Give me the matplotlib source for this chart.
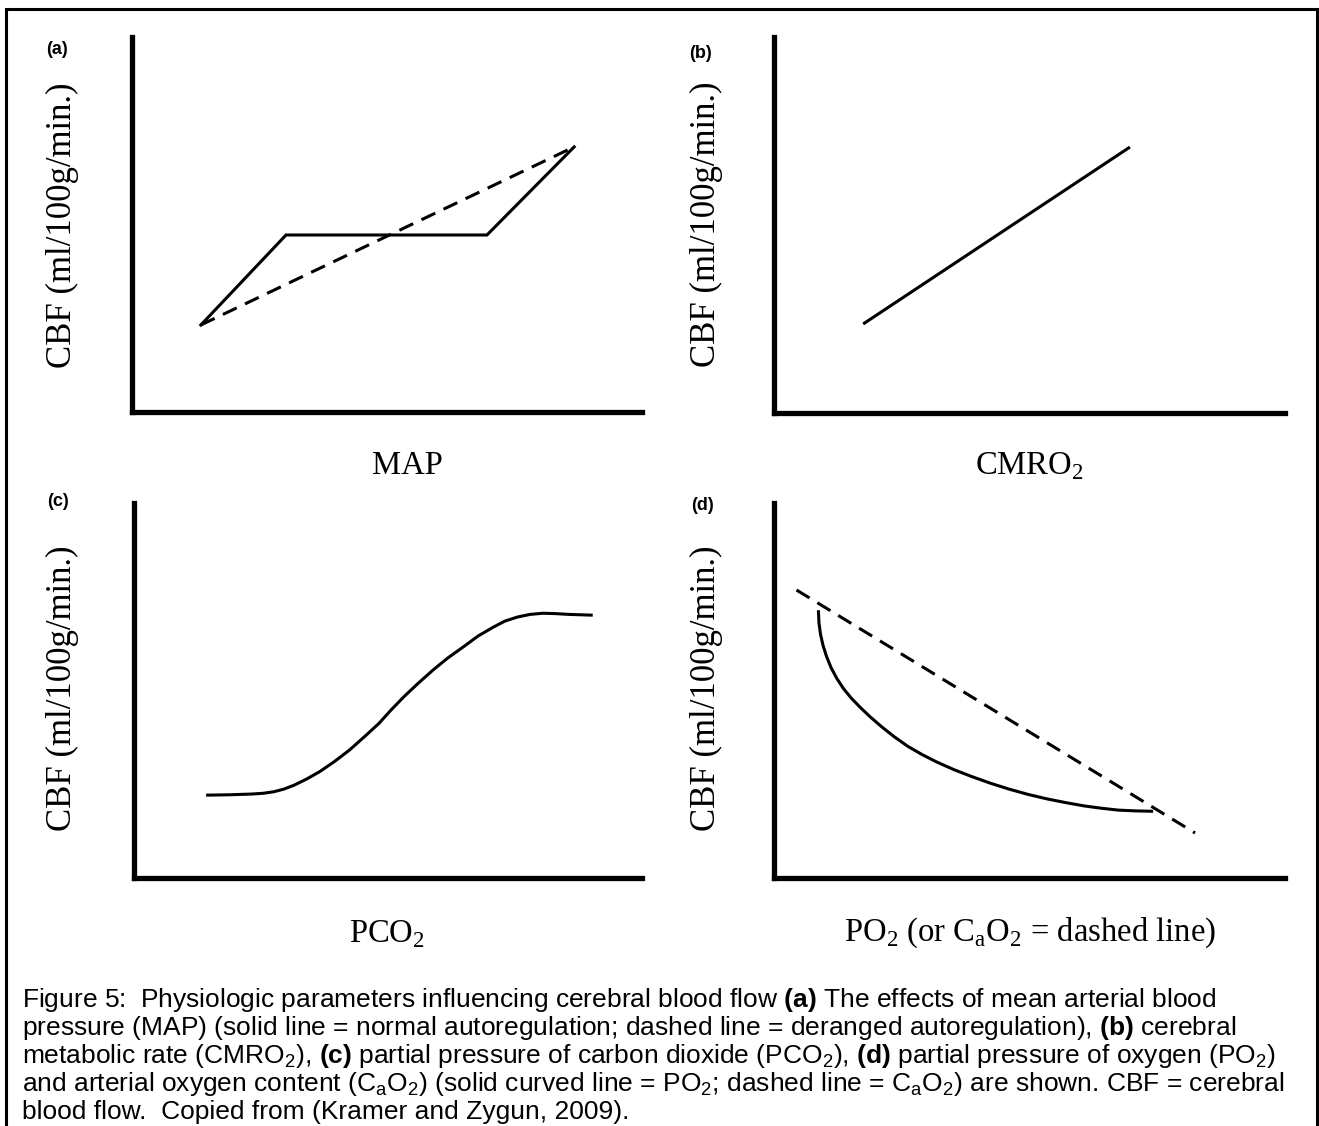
import matplotlib
matplotlib.use("Agg")
import matplotlib.pyplot as plt
from matplotlib.patches import Rectangle

plt.rcParams['mathtext.fontset'] = 'custom'
plt.rcParams['mathtext.rm'] = 'Liberation Sans'
plt.rcParams['mathtext.bf'] = 'Liberation Sans:bold'

W, H = 1319, 1126

# panel (a): MAP, solid = normal autoregulation, dashed = deranged
map_solid_x = [13.5, 30.2, 69.6, 86.7]
map_solid_y = [23.2, 47.2, 47.2, 70.7]
map_dash_x = [13.5, 86.7]
map_dash_y = [23.2, 70.7]

# panel (b): CMRO2
cmro_x = [17.7, 69.4]
cmro_y = [23.9, 70.5]

# panel (c): PCO2 (sigmoid)
pco2_x = [14.5, 19.0, 23.3, 25.5, 27.5, 29.5, 31.6, 34.0, 36.6, 39.5, 42.4, 45.3, 48.2, 50.6,
          53.1, 56.0, 58.9, 61.8, 64.8, 67.7, 70.6, 73.0, 75.5, 78.0, 80.5, 83.0, 85.5, 90.0]
pco2_y = [22.1, 22.2, 22.4, 22.6, 23.0, 23.7, 24.8, 26.4, 28.4, 31.1, 34.1, 37.6, 41.2, 44.8,
          48.3, 52.0, 55.5, 58.7, 61.6, 64.5, 66.8, 68.5, 69.6, 70.3, 70.6, 70.5, 70.3, 70.1]

# panel (d): PO2 solid curve, CaO2 dashed line
po2_x = [8.7, 8.8, 9.1, 9.6, 10.3, 11.2, 12.3, 13.6, 15.1, 16.8, 18.8, 21.0, 23.5, 26.2, 29.0,
         31.9, 35.2, 38.6, 42.3, 46.0, 49.7, 53.4, 57.1, 60.8, 64.1, 67.4, 70.7, 73.9]
po2_y = [71.0, 68.0, 65.0, 62.0, 59.0, 56.0, 53.2, 50.5, 48.0, 45.6, 43.0, 40.4, 37.7, 35.1, 32.9,
         30.9, 28.9, 27.1, 25.3, 23.7, 22.3, 21.1, 20.1, 19.2, 18.6, 18.1, 17.9, 17.8]
cao2_x = [4.4, 82.4]
cao2_y = [76.8, 12.0]

panel_letters = ['(a)', '(b)', '(c)', '(d)']
y_label = 'CBF (ml/100g/min.)'
x_labels = ['MAP', r'CMRO$_\mathregular{2}$', r'PCO$_\mathregular{2}$',
            r'PO$_\mathregular{2}$ (or C$_\mathregular{a}$O$_\mathregular{2}$ = dashed line)']

caption = [
    r'Figure 5:  Physiologic parameters influencing cerebral blood flow $\mathbf{(a)}$ The effects of mean arterial blood',
    r'pressure (MAP) (solid line = normal autoregulation; dashed line = deranged autoregulation), $\mathbf{(b)}$ cerebral',
    r'metabolic rate (CMRO$_\mathregular{2}$), $\mathbf{(c)}$ partial pressure of carbon dioxide (PCO$_\mathregular{2}$), $\mathbf{(d)}$ partial pressure of oxygen (PO$_\mathregular{2}$)',
    r'and arterial oxygen content (C$_\mathregular{a}$O$_\mathregular{2}$) (solid curved line = PO$_\mathregular{2}$; dashed line = C$_\mathregular{a}$O$_\mathregular{2}$) are shown. CBF = cerebral',
    'blood flow.  Copied from (Kramer and Zygun, 2009).',
]

fig = plt.figure(figsize=(W / 100, H / 100), dpi=100)


def px(x, y):
    return x / W, 1 - y / H


# axes boxes in pixels: left, top, right, bottom
boxes = [(132, 37, 642, 412), (774, 37, 1285, 413), (134, 503, 642, 878), (774, 503, 1285, 878)]
letter_pos = [(57, 50), (701, 54), (58, 502), (702, 506)]
ylab_pos = [(62, 225), (706, 224), (62, 688), (706, 688)]
xlab_pos = [(407, 466), (1029, 466), (387, 934), (1030, 933)]

axes = []
for (l, t, r, b) in boxes:
    ax = fig.add_axes([l / W, 1 - b / H, (r - l) / W, (b - t) / H])
    ax.set_xlim(0, 100)
    ax.set_ylim(0, 100)
    ax.set_xticks([])
    ax.set_yticks([])
    for s in ['top', 'right']:
        ax.spines[s].set_visible(False)
    for s in ['left', 'bottom']:
        ax.spines[s].set_linewidth(3.8)
        ax.spines[s].set_capstyle('projecting')
    ax.patch.set_alpha(0)
    axes.append(ax)

lw = 2.2
dash = (0, (5, 3))
axes[0].plot(map_solid_x, map_solid_y, color='black', lw=lw, solid_joinstyle='miter')
axes[0].plot(map_dash_x, map_dash_y, color='black', lw=lw, linestyle=dash)
axes[1].plot(cmro_x, cmro_y, color='black', lw=lw)
axes[2].plot(pco2_x, pco2_y, color='black', lw=lw, solid_joinstyle='round')
axes[3].plot(po2_x, po2_y, color='black', lw=lw, solid_joinstyle='round')
axes[3].plot(cao2_x, cao2_y, color='black', lw=lw, linestyle=dash)

for i in range(4):
    x, y = px(*letter_pos[i])
    fig.text(x, y, panel_letters[i], fontsize=13, fontweight='bold', family='Liberation Sans',
             ha='center', va='center')
    x, y = px(*ylab_pos[i])
    fig.text(x, y, y_label, fontsize=25, family='Liberation Serif', rotation=90,
             ha='center', va='center')
    x, y = px(*xlab_pos[i])
    fig.text(x, y, x_labels[i], fontsize=23.5, family='Liberation Serif', ha='center', va='center')

baselines = [1007, 1035, 1063, 1091, 1119]
for line, yb in zip(caption, baselines):
    x, y = px(22, yb)
    fig.text(x, y, line, fontsize=19, family='Liberation Sans', ha='left', va='baseline')

# outer frame (open at the bottom edge of the image)
fig.patches.append(Rectangle(px(6, 1140), (1317 - 6) / W, (1140 - 8.5) / H,
                             transform=fig.transFigure, fill=False, lw=2.2, ec='black'))

fig.savefig('out.png', dpi=100)
